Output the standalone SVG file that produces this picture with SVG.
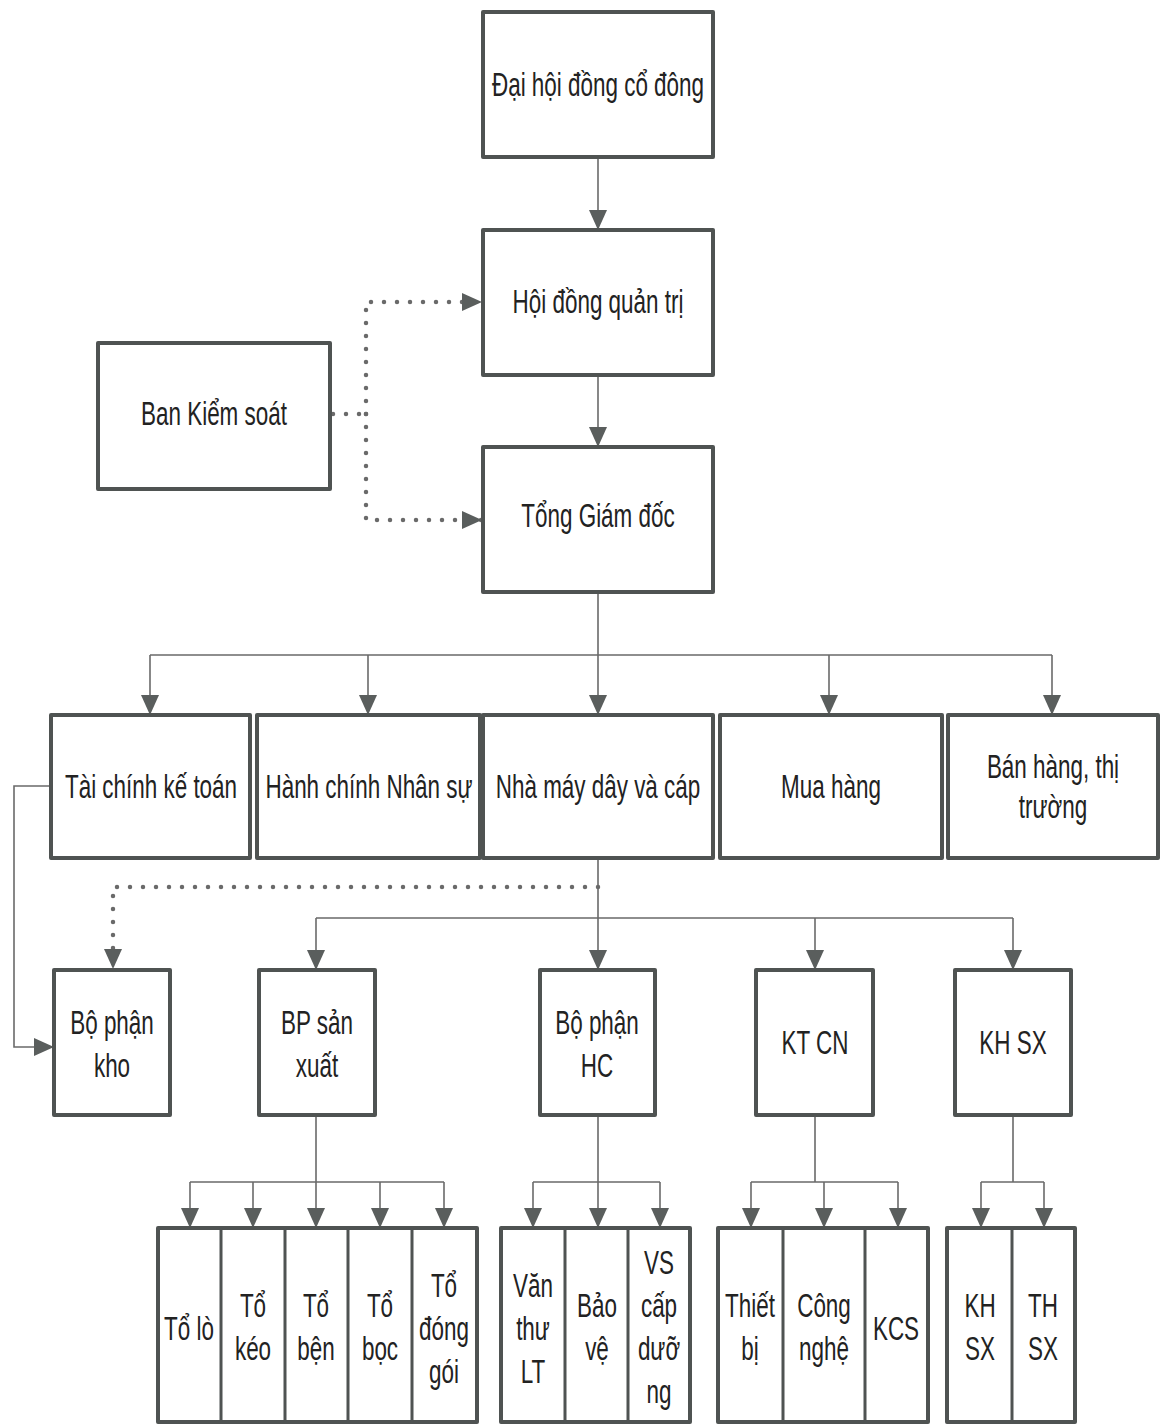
<svg xmlns="http://www.w3.org/2000/svg" width="1160" height="1425" viewBox="0 0 1160 1425">
<style>
.box{fill:#fff;stroke:#4f5352;stroke-width:4;stroke-linejoin:round}
.div{fill:none;stroke:#4f5352;stroke-width:3}
.ln{fill:none;stroke:#6a6a6a;stroke-width:1.6}
.arr{marker-end:url(#ah)}
.dot{fill:none;stroke:#6a6a6a;stroke-width:4.5;stroke-linecap:round;stroke-dasharray:0 13}
.t{font-family:"Liberation Sans",Arial,sans-serif;font-size:34px;fill:#222;text-anchor:middle}
</style>
<defs>
<marker id="ah" viewBox="0 0 20 18" refX="20" refY="9" markerWidth="21" markerHeight="18" markerUnits="userSpaceOnUse" orient="auto">
<path d="M0,0 L20,9 L0,18 z" fill="#5a5e5d"/>
</marker>
</defs>
<rect width="1160" height="1425" fill="#fff"/>

<g id="connectors">
<path class="ln arr" d="M598,157 V230"/>
<path class="ln arr" d="M598,375 V447"/>
<path class="dot" d="M333,414 H366"/>
<path class="dot arr" d="M366,414 V302 H482"/>
<path class="dot arr" d="M366,414 V520 H482"/>
<path class="ln" d="M598,592 V655 M150,655 H1052"/>
<path class="ln arr" d="M150,655 V715"/>
<path class="ln arr" d="M368,655 V715"/>
<path class="ln arr" d="M598,655 V715"/>
<path class="ln arr" d="M829,655 V715"/>
<path class="ln arr" d="M1052,655 V715"/>
<path class="ln arr" d="M51,786 H14 V1047 H54"/>
<path class="dot arr" d="M598,887 H113 V969"/>
<path class="ln" d="M598,858 V918 M316,918 H1013"/>
<path class="ln arr" d="M316,918 V970"/>
<path class="ln arr" d="M598,918 V970"/>
<path class="ln arr" d="M815,918 V970"/>
<path class="ln arr" d="M1013,918 V970"/>
<path class="ln" d="M316,1115 V1182 M190,1182 H444"/>
<path class="ln arr" d="M190,1182 V1228"/>
<path class="ln arr" d="M253,1182 V1228"/>
<path class="ln arr" d="M316,1182 V1228"/>
<path class="ln arr" d="M380,1182 V1228"/>
<path class="ln arr" d="M444,1182 V1228"/>
<path class="ln" d="M598,1115 V1182 M533,1182 H660"/>
<path class="ln arr" d="M533,1182 V1228"/>
<path class="ln arr" d="M598,1182 V1228"/>
<path class="ln arr" d="M660,1182 V1228"/>
<path class="ln" d="M815,1115 V1182 M751,1182 H898"/>
<path class="ln arr" d="M751,1182 V1228"/>
<path class="ln arr" d="M824,1182 V1228"/>
<path class="ln arr" d="M898,1182 V1228"/>
<path class="ln" d="M1013,1115 V1182 M981,1182 H1044"/>
<path class="ln arr" d="M981,1182 V1228"/>
<path class="ln arr" d="M1044,1182 V1228"/>
</g>

<g id="dhdcd"><rect class="box" x="483" y="12" width="230" height="145"/>
<text class="t" transform="translate(598,96) scale(0.66,1)">Đại hội đồng cổ đông</text></g>
<g id="hdqt"><rect class="box" x="483" y="230" width="230" height="145"/>
<text class="t" transform="translate(598,313) scale(0.66,1)">Hội đồng quản trị</text></g>
<g id="tgd"><rect class="box" x="483" y="447" width="230" height="145"/>
<text class="t" transform="translate(598,527) scale(0.66,1)">Tổng Giám đốc</text></g>
<g id="bks"><rect class="box" x="98" y="343" width="232" height="146"/>
<text class="t" transform="translate(214,425) scale(0.66,1)">Ban Kiểm soát</text></g>

<g id="tckt"><rect class="box" x="51" y="715" width="199" height="143"/>
<text class="t" transform="translate(151,798) scale(0.66,1)">Tài chính kế toán</text></g>
<g id="hcns"><rect class="box" x="257" y="715" width="223" height="143"/>
<text class="t" transform="translate(369,798) scale(0.66,1)">Hành chính Nhân sự</text></g>
<g id="nmdc"><rect class="box" x="483" y="715" width="230" height="143"/>
<text class="t" transform="translate(598,798) scale(0.66,1)">Nhà máy dây và cáp</text></g>
<g id="mh"><rect class="box" x="720" y="715" width="222" height="143"/>
<text class="t" transform="translate(831,798) scale(0.66,1)">Mua hàng</text></g>
<g id="bhtt"><rect class="box" x="948" y="715" width="210" height="143"/>
<text class="t" transform="translate(1053,778) scale(0.66,1)"><tspan x="0" y="0">Bán hàng, thị</tspan><tspan x="0" y="40">trường</tspan></text></g>

<g id="bpkho"><rect class="box" x="54" y="970" width="116" height="145"/>
<text class="t" transform="translate(112,1034) scale(0.66,1)"><tspan x="0" y="0">Bộ phận</tspan><tspan x="0" y="43">kho</tspan></text></g>
<g id="bpsx"><rect class="box" x="259" y="970" width="116" height="145"/>
<text class="t" transform="translate(317,1034) scale(0.66,1)"><tspan x="0" y="0">BP sản</tspan><tspan x="0" y="43">xuất</tspan></text></g>
<g id="bphc"><rect class="box" x="540" y="970" width="115" height="145"/>
<text class="t" transform="translate(597,1034) scale(0.66,1)"><tspan x="0" y="0">Bộ phận</tspan><tspan x="0" y="43">HC</tspan></text></g>
<g id="ktcn"><rect class="box" x="756" y="970" width="117" height="145"/>
<text class="t" transform="translate(815,1054) scale(0.66,1)">KT CN</text></g>
<g id="khsx"><rect class="box" x="955" y="970" width="116" height="145"/>
<text class="t" transform="translate(1013,1054) scale(0.66,1)">KH SX</text></g>

<g id="grp-sx">
<rect class="box" x="158" y="1228" width="319" height="194"/>
<path class="div" d="M221,1228 V1422 M285,1228 V1422 M348,1228 V1422 M412,1228 V1422"/>
<g id="to-lo"><text class="t" transform="translate(189,1340) scale(0.66,1)">Tổ lò</text></g>
<g id="to-keo"><text class="t" transform="translate(253,1317) scale(0.66,1)"><tspan x="0" y="0">Tổ</tspan><tspan x="0" y="43">kéo</tspan></text></g>
<g id="to-ben"><text class="t" transform="translate(316,1317) scale(0.66,1)"><tspan x="0" y="0">Tổ</tspan><tspan x="0" y="43">bện</tspan></text></g>
<g id="to-boc"><text class="t" transform="translate(380,1317) scale(0.66,1)"><tspan x="0" y="0">Tổ</tspan><tspan x="0" y="43">bọc</tspan></text></g>
<g id="to-donggoi"><text class="t" transform="translate(444,1297) scale(0.66,1)"><tspan x="0" y="0">Tổ</tspan><tspan x="0" y="43">đóng</tspan><tspan x="0" y="86">gói</tspan></text></g>
</g>

<g id="grp-hc">
<rect class="box" x="501" y="1228" width="189" height="194"/>
<path class="div" d="M565,1228 V1422 M628,1228 V1422"/>
<g id="vanthu"><text class="t" transform="translate(533,1297) scale(0.66,1)"><tspan x="0" y="0">Văn</tspan><tspan x="0" y="43">thư</tspan><tspan x="0" y="86">LT</tspan></text></g>
<g id="baove"><text class="t" transform="translate(597,1317) scale(0.66,1)"><tspan x="0" y="0">Bảo</tspan><tspan x="0" y="43">vệ</tspan></text></g>
<g id="vs"><text class="t" transform="translate(659,1274) scale(0.66,1)"><tspan x="0" y="0">VS</tspan><tspan x="0" y="43">cấp</tspan><tspan x="0" y="86">dưỡ</tspan><tspan x="0" y="129">ng</tspan></text></g>
</g>

<g id="grp-kt">
<rect class="box" x="718" y="1228" width="210" height="194"/>
<path class="div" d="M783,1228 V1422 M865,1228 V1422"/>
<g id="thietbi"><text class="t" transform="translate(750,1317) scale(0.66,1)"><tspan x="0" y="0">Thiết</tspan><tspan x="0" y="43">bị</tspan></text></g>
<g id="congnghe"><text class="t" transform="translate(824,1317) scale(0.66,1)"><tspan x="0" y="0">Công</tspan><tspan x="0" y="43">nghệ</tspan></text></g>
<g id="kcs"><text class="t" transform="translate(896,1340) scale(0.66,1)">KCS</text></g>
</g>

<g id="grp-kh">
<rect class="box" x="947" y="1228" width="128" height="194"/>
<path class="div" d="M1012,1228 V1422"/>
<g id="kh"><text class="t" transform="translate(980,1317) scale(0.66,1)"><tspan x="0" y="0">KH</tspan><tspan x="0" y="43">SX</tspan></text></g>
<g id="th"><text class="t" transform="translate(1043,1317) scale(0.66,1)"><tspan x="0" y="0">TH</tspan><tspan x="0" y="43">SX</tspan></text></g>
</g>
</svg>
